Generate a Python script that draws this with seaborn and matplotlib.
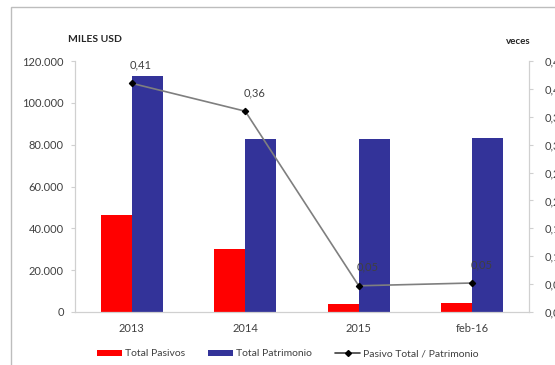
import matplotlib
matplotlib.use("Agg")
import matplotlib.pyplot as plt
from matplotlib.patches import Rectangle, Patch
from matplotlib.lines import Line2D
import seaborn as sns
import pandas as pd

# Values in thousands of USD
periodos = ["2013", "2014", "2015", "feb-16"]
total_pasivos = [46500, 30200, 3800, 4300]
total_patrimonio = [112700, 82500, 82900, 83000]
# Ratio Pasivo Total / Patrimonio (veces)
ratio = [0.41, 0.36, 0.047, 0.052]

serie_pasivos = "Total Pasivos"
serie_patrimonio = "Total Patrimonio"
serie_ratio = "Pasivo Total / Patrimonio"

df = pd.DataFrame({
    "periodo": periodos * 2,
    "valor": total_pasivos + total_patrimonio,
    "serie": [serie_pasivos] * len(periodos) + [serie_patrimonio] * len(periodos),
})

sns.set_theme(style="white")
plt.rcParams["font.family"] = ["Lato", "DejaVu Sans"]

TXT = "#404040"
AXC = "#D0D0D0"
RED = "#FF0000"
BLUE = "#333399"

W, H = 555, 365
fig = plt.figure(figsize=(W / 100, H / 100), dpi=100)
fig.patch.set_facecolor("white")

# chart area border
fig.add_artist(Rectangle((11 / W, -0.1), 1.2, (H - 7) / H + 0.1,
                         transform=fig.transFigure, fill=False,
                         edgecolor="#BDBDBD", lw=1.0))

ax = fig.add_axes([75 / W, (H - 312) / H, (529 - 75) / W, (312 - 61) / H])
sns.barplot(data=df, x="periodo", y="valor", hue="serie",
            palette=[RED, BLUE], width=0.55, saturation=1,
            order=periodos, ax=ax, legend=False, linewidth=0,
            edgecolor="none")

ax.set_ylim(0, 120000)
ax.set_yticks(range(0, 120001, 20000))
ax.set_yticklabels(["0" if v == 0 else f"{v:,}".replace(",", ".")
                    for v in range(0, 120001, 20000)])
ax.set_xlabel("")
ax.set_ylabel("")
ax.tick_params(axis="y", length=3, width=0.8, color=AXC, pad=5,
               labelsize=8, labelcolor=TXT, left=True, direction="out")
ax.tick_params(axis="x", length=0, pad=8, labelsize=8, labelcolor=TXT)
for s in ["top", "right"]:
    ax.spines[s].set_visible(False)
for s in ["left", "bottom"]:
    ax.spines[s].set_color(AXC)
    ax.spines[s].set_linewidth(0.9)

ax2 = ax.twinx()
sns.pointplot(x=periodos, y=ratio, order=periodos, color="#7F7F7F",
              markers="D", markersize=3.2, linewidth=1.2, ax=ax2)
for ln in ax2.lines:
    ln.set_markerfacecolor("black")
    ln.set_markeredgecolor("black")
ax2.set_ylim(0, 0.45)
ticks_r = [i * 0.05 for i in range(10)]
ax2.set_yticks(ticks_r)
ax2.set_yticklabels([f"{t:.2f}".replace(".", ",") for t in ticks_r])
ax2.tick_params(axis="y", length=3, width=0.8, color=AXC, pad=8,
                labelsize=8, labelcolor=TXT, right=True, direction="out")
ax2.set_ylabel("")
for s in ["top", "left", "bottom"]:
    ax2.spines[s].set_visible(False)
ax2.spines["right"].set_color(AXC)
ax2.spines["right"].set_linewidth(0.9)

for i, r in enumerate(ratio):
    ax2.annotate(f"{r:.2f}".replace(".", ","), (i, r), xytext=(9, 13),
                 textcoords="offset pixels", ha="center", va="bottom",
                 fontsize=8, color=TXT)

fig.text(68 / W, 1 - 40 / H, "MILES USD", fontsize=7.5, fontweight="bold",
         color="#262626", ha="left", va="center")
fig.text(506 / W, 1 - 41 / H, "veces", fontsize=7, fontweight="bold",
         color="#262626", ha="left", va="center")

handles = [
    Patch(facecolor=RED, edgecolor="none", label=serie_pasivos),
    Patch(facecolor=BLUE, edgecolor="none", label=serie_patrimonio),
    Line2D([], [], color="#404040", lw=1.2, marker="D", markersize=3,
           markerfacecolor="black", markeredgecolor="black", label=serie_ratio),
]
fig.legend(handles=handles, loc="center", bbox_to_anchor=(288 / W, 1 - 354 / H),
           ncol=3, frameon=False, fontsize=7.5, labelcolor=TXT,
           handlelength=2.4, handleheight=0.55, handletextpad=0.3,
           columnspacing=2.2)

fig.savefig("out.png", dpi=100)
